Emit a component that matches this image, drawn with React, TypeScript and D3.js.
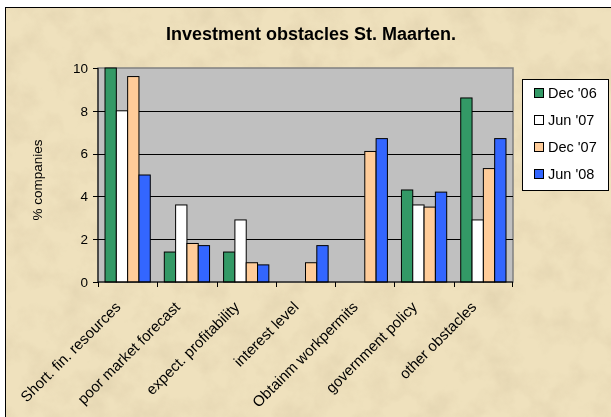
import React from "react";
import * as d3 from "d3";

const categories = [
  "Short. fin. resources",
  "poor market forecast",
  "expect. profitability",
  "interest level",
  "Obtainm workpermits",
  "government policy",
  "other obstacles",
];
const seriesNames = ["Dec '06", "Jun '07", "Dec '07", "Jun '08"];
const dec06 = [10, 1.4, 1.4, 0, 0, 4.3, 8.6];
const jun07 = [8, 3.6, 2.9, 0, 0, 3.6, 2.9];
const dec07 = [9.6, 1.8, 0.9, 0.9, 6.1, 3.5, 5.3];
const jun08 = [5, 1.7, 0.8, 1.7, 6.7, 4.2, 6.7];
const yTicks = [0, 2, 4, 6, 8, 10];

const colors = ["#339966", "#FFFFFF", "#FFCC99", "#3366FF"];
const FONT = "'Liberation Sans', Arial, sans-serif";

const W = 611;
const H = 417;
const plot = { left: 98, right: 513, top: 68, bottom: 282 };

export default function App() {
  const series = [dec06, jun07, dec07, jun08];

  const x = d3
    .scaleBand<string>()
    .domain(categories)
    .range([plot.left, plot.right]);
  const inner = d3
    .scaleBand<number>()
    .domain(d3.range(series.length))
    .range([0, x.bandwidth()])
    .paddingInner(0)
    .paddingOuter(0.62);
  const y = d3.scaleLinear().domain([0, 10]).range([plot.bottom, plot.top]);

  return (
    <div style={{ position: "fixed", left: 0, top: 0 }}>
      <svg width={W} height={H} style={{ display: "block" }}>
        <defs>
          <filter id="paper" x="0" y="0" width="100%" height="100%">
            <feTurbulence type="fractalNoise" baseFrequency="0.035" numOctaves="4" seed="7" />
            <feColorMatrix
              type="matrix"
              values="0 0 0 0 0.55  0 0 0 0 0.45  0 0 0 0 0.28  1.1 0 0 0 -0.45"
            />
          </filter>
        </defs>
        <rect x={0} y={0} width={W} height={H} fill="#ffffff" />
        <rect x={5} y={7} width={W} height={H} fill="#EFE1BD" />
        <rect x={5} y={7} width={W} height={H} filter="url(#paper)" opacity={0.45} />
        <line x1={5.5} y1={7} x2={5.5} y2={H} stroke="#000" />
        <line x1={5} y1={7.5} x2={W} y2={7.5} stroke="#000" />

        <text
          x={311}
          y={40}
          textAnchor="middle"
          fontFamily={FONT}
          fontWeight="bold"
          fontSize={18}
        >
          Investment obstacles St. Maarten.
        </text>

        {/* plot area */}
        <rect
          x={plot.left}
          y={plot.top}
          width={plot.right - plot.left}
          height={plot.bottom - plot.top}
          fill="#C0C0C0"
          stroke="#808080"
          strokeWidth={1.5}
        />
        {yTicks.slice(1, -1).map((t) => (
          <line
            key={t}
            x1={plot.left}
            x2={plot.right}
            y1={Math.round(y(t)) + 0.5}
            y2={Math.round(y(t)) + 0.5}
            stroke="#000"
          />
        ))}

        {/* bars */}
        {series.map((vals, si) =>
          vals.map((v, ci) =>
            v > 0 ? (
              <rect
                key={`${si}-${ci}`}
                x={(x(categories[ci]) ?? 0) + (inner(si) ?? 0)}
                y={y(v)}
                width={inner.bandwidth()}
                height={plot.bottom - y(v)}
                fill={colors[si]}
                stroke="#000"
                strokeWidth={1}
              />
            ) : null
          )
        )}

        {/* axes */}
        <line x1={plot.left} x2={plot.left} y1={plot.top} y2={plot.bottom} stroke="#000" />
        <line x1={plot.left} x2={plot.right} y1={plot.bottom} y2={plot.bottom} stroke="#000" />
        {yTicks.map((t) => (
          <g key={t}>
            <line
              x1={plot.left - 5}
              x2={plot.left}
              y1={Math.round(y(t)) + 0.5}
              y2={Math.round(y(t)) + 0.5}
              stroke="#000"
            />
            <text
              x={plot.left - 10}
              y={y(t)}
              dy="0.36em"
              textAnchor="end"
              fontFamily={FONT}
              fontSize={13.5}
            >
              {t}
            </text>
          </g>
        ))}
        {categories.map((c) => (
          <line
            key={c}
            x1={Math.round(x(c) ?? 0) + 0.5}
            x2={Math.round(x(c) ?? 0) + 0.5}
            y1={plot.bottom}
            y2={plot.bottom + 5}
            stroke="#000"
          />
        ))}
        <line
          x1={plot.right - 0.5}
          x2={plot.right - 0.5}
          y1={plot.bottom}
          y2={plot.bottom + 5}
          stroke="#000"
        />
        {categories.map((c) => {
          const cx = (x(c) ?? 0) + x.bandwidth() / 2;
          return (
            <text
              key={c}
              transform={`translate(${cx - 6},${plot.bottom + 26}) rotate(-45)`}
              textAnchor="end"
              fontFamily={FONT}
              fontSize={15}
            >
              {c}
            </text>
          );
        })}

        <text
          transform={`translate(42,180) rotate(-90)`}
          textAnchor="middle"
          fontFamily={FONT}
          fontSize={13.5}
        >
          % companies
        </text>

        {/* legend */}
        <rect x={522.5} y={79.5} width={86} height={111} fill="#fff" stroke="#000" />
        {seriesNames.map((s, i) => (
          <g key={s} transform={`translate(534,${93 + i * 27})`}>
            <rect x={0.5} y={-4.5} width={9} height={9} fill={colors[i]} stroke="#000" />
            <text x={14} y={0} dy="0.36em" fontFamily={FONT} fontSize={14.5}>
              {s}
            </text>
          </g>
        ))}
      </svg>
    </div>
  );
}
